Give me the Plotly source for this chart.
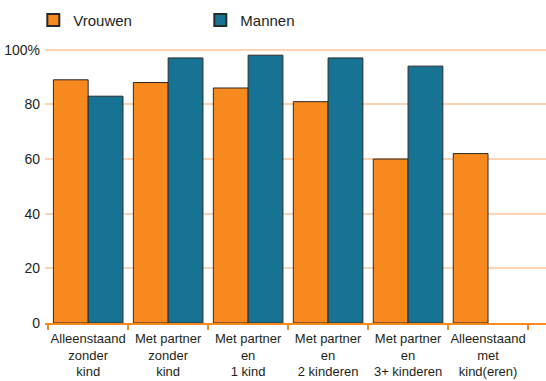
import plotly.graph_objects as go

categories = [
    "Alleenstaand<br>zonder<br>kind",
    "Met partner<br>zonder<br>kind",
    "Met partner<br>en<br>1 kind",
    "Met partner<br>en<br>2 kinderen",
    "Met partner<br>en<br>3+ kinderen",
    "Alleenstaand<br>met<br>kind(eren)",
]
vrouwen = [89, 88, 86, 81, 60, 62]
mannen = [83, 97, 98, 97, 94, None]
y_ticks = [0, 20, 40, 60, 80, 100]
y_labels = ["0", "20", "40", "60", "80", "100%"]

ORANGE = "#F8891F"
BLUE = "#167394"
GRID = "#FDD3B5"
TEXT = "#231F20"
FONT = "Liberation Sans, Arial, sans-serif"

fig = go.Figure()
fig.add_bar(x=categories, y=vrouwen, name="Vrouwen",
            marker=dict(color=ORANGE, line=dict(color="#2a2a2a", width=1)))
fig.add_bar(x=categories, y=mannen, name="Mannen",
            marker=dict(color=BLUE, line=dict(color="#2a2a2a", width=1)))

fig.update_layout(
    width=546, height=381,
    margin=dict(l=45, r=0, t=47, b=58, autoexpand=False),
    paper_bgcolor="white", plot_bgcolor="white",
    barmode="group", bargap=0.13, bargroupgap=0,
    font=dict(family=FONT, size=13, color=TEXT),
    showlegend=True,
    legend=dict(orientation="h", x=0.061, y=0.99, xref="container", yref="container",
                yanchor="top", xanchor="left",
                font=dict(size=15, color=TEXT),
                entrywidth=122, entrywidthmode="pixels",
                itemsizing="constant", traceorder="normal"),
)
fig.update_xaxes(
    type="category", range=[-0.54, 5.725], tickangle=0,
    showline=True, linecolor=ORANGE, linewidth=2,
    ticks="outside", tickson="boundaries", ticklen=5, tickcolor=ORANGE, tickwidth=2,
    showgrid=False, tickfont=dict(size=13, color=TEXT), ticklabelstandoff=2,
)
fig.update_yaxes(
    range=[0, 101], tickvals=y_ticks, ticktext=y_labels,
    showgrid=True, gridcolor=GRID, gridwidth=1.5,
    zeroline=False, showline=False, ticks="",
    tickfont=dict(size=14, color=TEXT), ticklabelstandoff=4,
)

fig.write_html("out.html")
